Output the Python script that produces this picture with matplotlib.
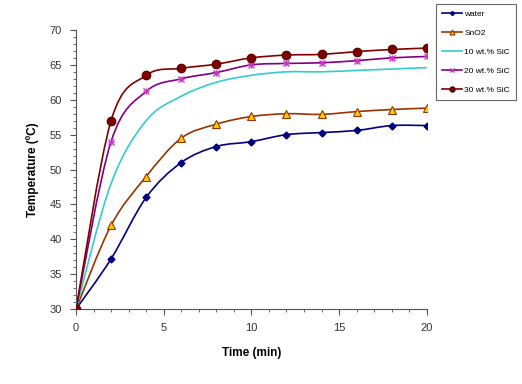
import matplotlib
matplotlib.use('Agg')
import matplotlib.pyplot as plt
from matplotlib.path import Path
from matplotlib.patches import PathPatch
from matplotlib.lines import Line2D
from matplotlib.ticker import MultipleLocator

plt.rcParams['font.family'] = ['Liberation Sans', 'DejaVu Sans']

# time in minutes
time = [0, 2, 4, 6, 8, 10, 12, 14, 16, 18, 20]

water = [30, 37.2, 46.0, 51.0, 53.3, 54.0, 55.0, 55.3, 55.6, 56.3, 56.3]
sno2 = [30, 42.0, 49.0, 54.5, 56.5, 57.6, 58.0, 57.9, 58.3, 58.6, 58.8]
sic10 = [30, 48.0, 57.0, 60.5, 62.5, 63.5, 64.0, 64.0, 64.2, 64.4, 64.6]
sic20 = [30, 54.0, 61.2, 63.0, 63.9, 65.0, 65.2, 65.3, 65.6, 66.0, 66.2]
sic30 = [30, 57.0, 63.5, 64.5, 65.1, 66.0, 66.4, 66.5, 66.9, 67.2, 67.4]

labels = ['water', 'SnO2', '10 wt.% SiC', '20 wt.% SiC', '30 wt.% SiC']


def smooth_path(x, y):
    # Excel-like smoothed line: cubic bezier through the points
    pts = list(zip(x, y))
    n = len(pts)
    verts = [pts[0]]
    codes = [Path.MOVETO]
    for i in range(n - 1):
        p0 = pts[i - 1] if i > 0 else pts[i]
        p1 = pts[i]
        p2 = pts[i + 1]
        p3 = pts[i + 2] if i + 2 < n else pts[i + 1]
        c1 = (p1[0] + (p2[0] - p0[0]) / 6, p1[1] + (p2[1] - p0[1]) / 6)
        c2 = (p2[0] - (p3[0] - p1[0]) / 6, p2[1] - (p3[1] - p1[1]) / 6)
        verts += [c1, c2, p2]
        codes += [Path.CURVE4] * 3
    return Path(verts, codes)


fig = plt.figure(figsize=(5.22, 3.84), dpi=100)
ax = fig.add_axes([0.1456, 0.195, 0.672, 0.727])

series = [
    (water, '#000080', dict(marker='D', markersize=3.5, markerfacecolor='#000080', markeredgecolor='#000080')),
    (sno2, '#993300', dict(marker='^', markersize=6, markerfacecolor='#FFCC00', markeredgecolor='#993300', markeredgewidth=0.8)),
    (sic10, '#33CCCC', dict(marker='None')),
    (sic20, '#800080', dict(marker='x', markersize=5, markeredgecolor='#CC33CC', markeredgewidth=1.0)),
    (sic30, '#800000', dict(marker='o', markersize=6, markerfacecolor='#800000', markeredgecolor='#600000')),
]

handles = []
for vals, color, mk in series:
    ax.add_patch(PathPatch(smooth_path(time, vals), facecolor='none', edgecolor=color, lw=1.2, zorder=2))
    ax.plot(time, vals, linestyle='None', zorder=3, **mk)
    if mk.get('marker') == 'x':
        ax.plot(time, vals, linestyle='None', marker='+', markersize=5, markeredgecolor='#CC33CC', markeredgewidth=1.0, zorder=3)
    handles.append(Line2D([0], [0], color=color, lw=1.2, **{k: (v * 0.6 if k == 'markersize' else v) for k, v in mk.items()}))

ax.set_xlim(0, 20)
ax.set_ylim(30, 70)
ax.xaxis.set_major_locator(MultipleLocator(5))
ax.xaxis.set_minor_locator(MultipleLocator(1))
ax.yaxis.set_major_locator(MultipleLocator(5))
ax.yaxis.set_minor_locator(MultipleLocator(1))

for s in ['top', 'right']:
    ax.spines[s].set_visible(False)
for s in ['left', 'bottom']:
    ax.spines[s].set_color('#555555')
    ax.spines[s].set_linewidth(0.8)

ax.tick_params(which='major', length=4, width=0.8, color='#555555', labelsize=8, labelcolor='#333333', pad=6)
ax.tick_params(which='minor', length=2.5, width=0.6, color='#555555')

ax.set_xlabel('Time (min)', fontsize=8.5, fontweight='bold', labelpad=10)
ax.set_ylabel('Temperature (ºC)', fontsize=8.5, fontweight='bold', labelpad=8)

leg = fig.legend(handles, labels, loc='upper left', bbox_to_anchor=(0.835, 0.99),
                 fontsize=6, frameon=True, fancybox=False, handlelength=2.4,
                 labelspacing=1.35, borderpad=0.7, handletextpad=0.3, borderaxespad=0)
leg.get_frame().set_edgecolor('#444444')
leg.get_frame().set_linewidth(0.8)

fig.savefig('out.png', dpi=100)
